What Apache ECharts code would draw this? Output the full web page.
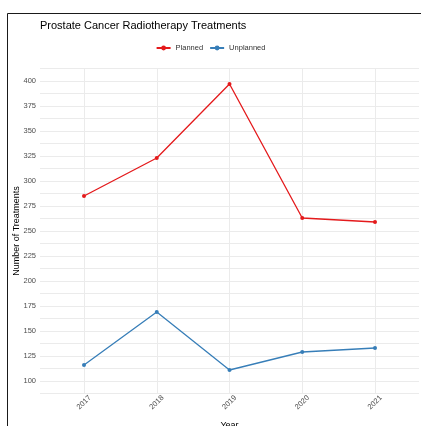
<!DOCTYPE html>
<html>
<head>
<meta charset="utf-8">
<script src="https://cdn.jsdelivr.net/npm/echarts@6/dist/echarts.min.js"></script>
<style>
  html, body { margin: 0; padding: 0; background: #fff; }
  #chart { width: 421px; height: 426px; }
</style>
</head>
<body>
<div id="chart"></div>
<script>
// Datos
const years = ['2017', '2018', '2019', '2020', '2021'];
const planned = [285, 323, 397, 263, 259];
const unplanned = [116, 169, 111, 129, 133];

const font = '"Liberation Sans", Arial, sans-serif';
const gridColor = '#EBEBEB';
const yMin = 87.5, yMax = 412.5; // multiplos de 12.5

const chart = echarts.init(document.getElementById('chart'));
chart.setOption({
    animation: false,
    backgroundColor: '#fff',
    textStyle: { fontFamily: font },
    title: {
        text: 'Prostate Cancer Radiotherapy Treatments',
        left: 35, top: 15,
        textStyle: { fontSize: 11, fontWeight: 'normal', color: '#000', fontFamily: font }
    },
    legend: {
        data: ['Planned', 'Unplanned'],
        top: 39, left: 'center',
        itemWidth: 14, itemHeight: 6, itemGap: 6,
        textStyle: { fontSize: 7.5, color: '#333', fontFamily: font }
    },
    graphic: [
        {
            type: 'rect',
            shape: { x: 7.5, y: 13.5, width: 600, height: 600 },
            style: { fill: null, stroke: '#1a1a1a', lineWidth: 1 },
            silent: true
        },
        {
            // titulo del eje Y
            type: 'text',
            x: 17, y: 231, rotation: Math.PI / 2,
            style: {
                text: 'Number of Treatments', fontSize: 9, fill: '#000', fontFamily: font,
                align: 'center', verticalAlign: 'middle'
            },
            silent: true
        }
    ],
    grid: [
        // datos: de 2017 a 2021
        { left: 84, right: 46, top: 68.5, bottom: 32.5, outerBoundsMode: 'none', containLabel: false },
        // panel completo con lineas horizontales
        { left: 40, right: 2, top: 68.5, bottom: 32.5, outerBoundsMode: 'none', containLabel: false }
    ],
    xAxis: [
        {
            gridIndex: 0,
            type: 'category',
            data: years,
            boundaryGap: false,
            axisLine: { show: false },
            axisTick: { show: false },
            splitLine: { show: true, lineStyle: { color: gridColor, width: 1 } },
            axisLabel: {
                rotate: 45, align: 'center', verticalAlign: 'middle', margin: 9,
                fontSize: 7.5, color: '#4D4D4D', fontFamily: font
            },
            name: 'Year', nameLocation: 'middle', nameGap: 28,
            nameTextStyle: { fontSize: 9, color: '#000', fontFamily: font }
        },
        { gridIndex: 1, type: 'value', show: false, min: 0, max: 1 }
    ],
    yAxis: [
        { gridIndex: 0, type: 'value', show: false, min: yMin, max: yMax },
        {
            gridIndex: 1,
            type: 'value',
            min: yMin, max: yMax, interval: 12.5,
            axisLine: { show: false },
            axisTick: { show: false },
            splitLine: { show: true, lineStyle: { color: gridColor, width: 1 } },
            axisLabel: {
                margin: 4, fontSize: 7.5, color: '#4D4D4D', fontFamily: font,
                formatter: v => (v % 25 === 0 ? String(v) : '')
            }
        }
    ],
    series: [
        {
            name: 'Planned', type: 'line',
            xAxisIndex: 0, yAxisIndex: 0,
            data: planned,
            symbol: 'circle', symbolSize: 4,
            lineStyle: { width: 1.3, color: '#E41A1C' },
            itemStyle: { color: '#E41A1C' }
        },
        {
            name: 'Unplanned', type: 'line',
            xAxisIndex: 0, yAxisIndex: 0,
            data: unplanned,
            symbol: 'circle', symbolSize: 4,
            lineStyle: { width: 1.3, color: '#377EB8' },
            itemStyle: { color: '#377EB8' }
        }
    ]
});
</script>
</body>
</html>
